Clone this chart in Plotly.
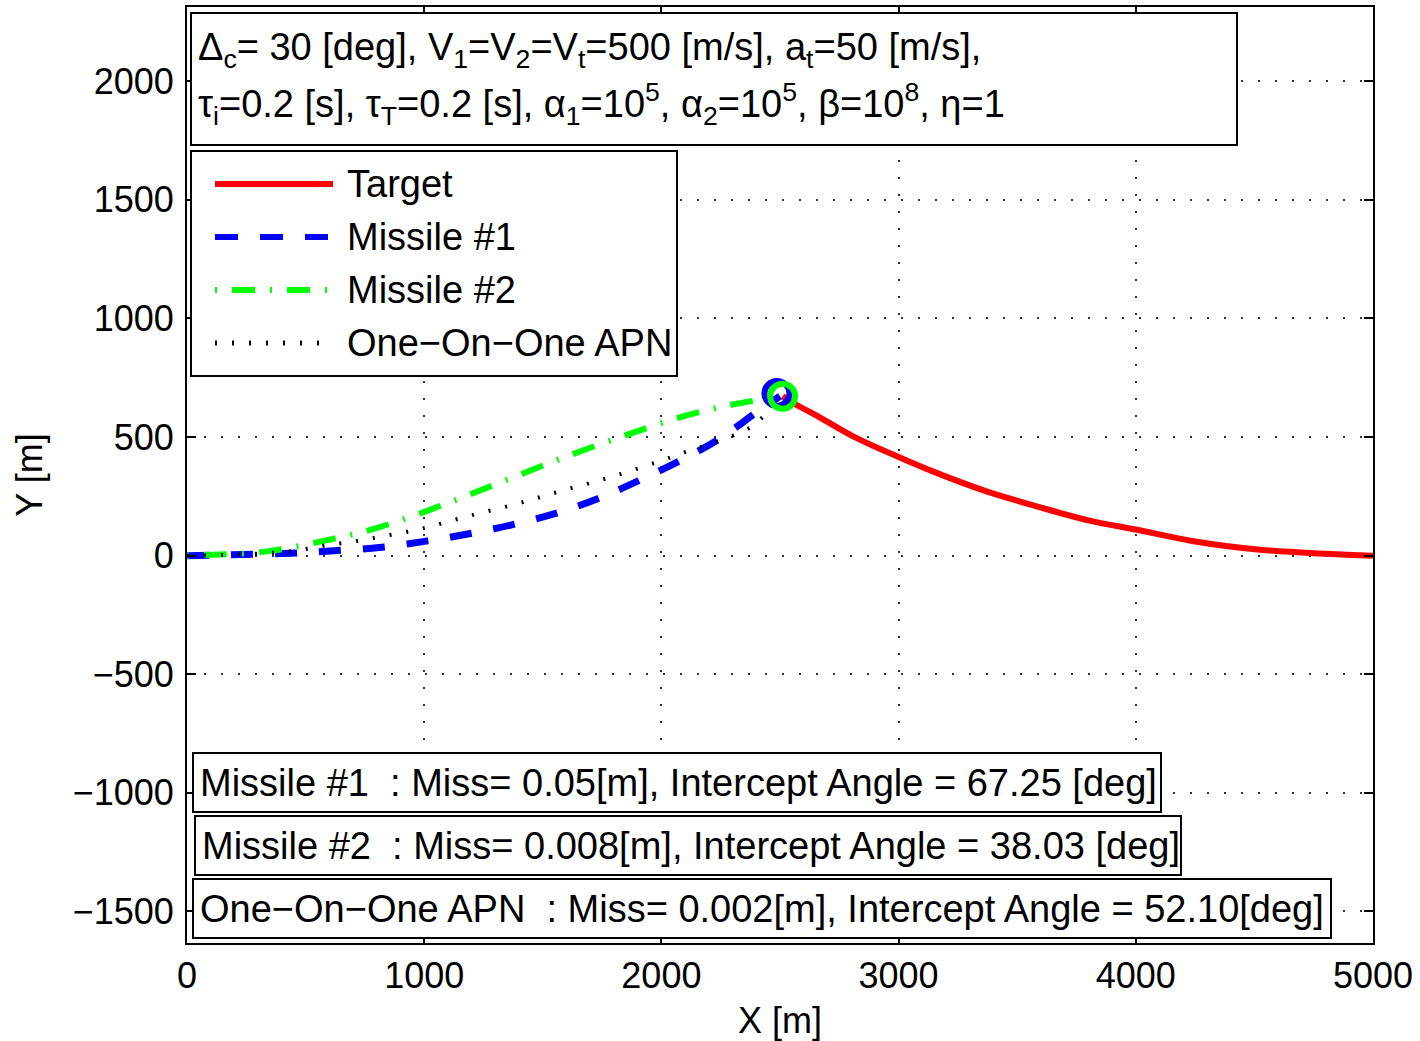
import plotly.graph_objects as go

# ---------------- data ----------------
target_x = [5000, 4805, 4524, 4243, 4000, 3800, 3582, 3371, 3160, 3000, 2808, 2669, 2542, 2511]
target_y = [0, 8, 25, 61, 110, 149, 208, 271, 349, 416, 503, 582, 651, 672]

m1_x = [0, 147, 435, 619, 811, 995, 1178, 1365, 1554, 1734, 1909, 2082, 2245, 2402, 2500]
m1_y = [0, 3, 10, 21, 34, 59, 90, 129, 178, 241, 318, 402, 493, 605, 672]

m2_x = [0, 77, 330, 575, 794, 1012, 1213, 1432, 1642, 1860, 2070, 2200, 2300, 2400, 2500]
m2_y = [0, 3, 17, 62, 115, 189, 266, 353, 434, 511, 581, 615, 637, 655, 672]

apn_x = [0, 150, 427, 575, 715, 855, 995, 1178, 1388, 1589, 1790, 1983, 2122, 2245, 2386, 2500]
apn_y = [0, 3, 17, 42, 62, 87, 115, 165, 218, 276, 332, 395, 444, 485, 548, 672]

m1_end = (2487, 684)
m2_end = (2511, 672)

x_ticks = [0, 1000, 2000, 3000, 4000, 5000]
y_ticks = [-1500, -1000, -500, 0, 500, 1000, 1500, 2000]
x_range = [0, 5000]
y_range = [-1633, 2313]

legend_names = ["Target", "Missile #1", "Missile #2", "One\u2212On\u2212One APN"]

info_line1 = ("\u0394<sub>c</sub>= 30 [deg], V<sub>1</sub>=V<sub>2</sub>=V<sub>t</sub>=500 [m/s], "
              "a<sub>t</sub>=50 [m/s],")
info_line2 = ("\u03c4<sub>i</sub>=0.2 [s], \u03c4<sub>T</sub>=0.2 [s], \u03b1<sub>1</sub>=10<sup>5</sup>, "
              "\u03b1<sub>2</sub>=10<sup>5</sup>, \u03b2=10<sup>8</sup>, \u03b7=1")
result_texts = [
    "Missile #1\u00a0\u00a0: Miss= 0.05[m], Intercept Angle = 67.25 [deg]",
    "Missile #2\u00a0\u00a0: Miss= 0.008[m], Intercept Angle = 38.03 [deg]",
    "One\u2212On\u2212One APN\u00a0\u00a0: Miss= 0.002[m], Intercept Angle = 52.10[deg]",
]

# ---------------- layout helpers ----------------
W, H = 1420, 1041
L, R, T, B = 187, 1373, 7, 943
FONT = "Liberation Sans, Arial, Helvetica, sans-serif"


def px(x):
    return (x - L) / (R - L)


def py(y):
    return (B - y) / (B - T)


RED = "#ff0000"
BLUE = "#0000ff"
GREEN = "#00ff00"
BLACK = "#000000"

fig = go.Figure()
fig.add_trace(go.Scatter(x=target_x, y=target_y, mode="lines",
                         line=dict(color=RED, width=6, shape="spline"), showlegend=False))
fig.add_trace(go.Scatter(x=m1_x, y=m1_y, mode="lines",
                         line=dict(color=BLUE, width=7, dash="22px,22px", shape="spline"),
                         showlegend=False))
fig.add_trace(go.Scatter(x=m2_x, y=m2_y, mode="lines",
                         line=dict(color=GREEN, width=6, dash="2px,15px,23px,15px", shape="spline"),
                         showlegend=False))
fig.add_trace(go.Scatter(x=apn_x, y=apn_y, mode="lines",
                         line=dict(color=BLACK, width=4, dash="2px,15px", shape="spline"),
                         showlegend=False))
fig.add_trace(go.Scatter(x=[m1_end[0]], y=[m1_end[1]], mode="markers",
                         marker=dict(symbol="circle-open", size=25, color=BLUE,
                                     line=dict(width=6, color=BLUE)), showlegend=False))
fig.add_trace(go.Scatter(x=[m2_end[0]], y=[m2_end[1]], mode="markers",
                         marker=dict(symbol="circle-open", size=25, color=GREEN,
                                     line=dict(width=6, color=GREEN)), showlegend=False))

shapes = []
annotations = []


def box(x0, y0, x1, y1):
    shapes.append(dict(type="rect", xref="paper", yref="paper",
                       x0=px(x0), x1=px(x1), y0=py(y1), y1=py(y0),
                       line=dict(color=BLACK, width=2), fillcolor="white", layer="above"))


def text(x, y, s, size=38):
    annotations.append(dict(xref="paper", yref="paper", x=px(x), y=py(y), text=s,
                            showarrow=False, xanchor="left", yanchor="middle",
                            font=dict(family=FONT, size=size, color=BLACK)))


# top parameter box
box(191, 13, 1237, 145)
text(196, 50, info_line1, 38)
text(196, 104, info_line2, 38)

# custom legend
box(191, 151, 677, 376)
leg_styles = [
    dict(color=RED, width=6, dash="solid"),
    dict(color=BLUE, width=6, dash="23px,22px"),
    dict(color=GREEN, width=6, dash="2px,15px,23px,15px"),
    dict(color=BLACK, width=5, dash="2px,15px"),
]
leg_y = [184, 237, 290, 343]
for name, st, yy in zip(legend_names, leg_styles, leg_y):
    shapes.append(dict(type="line", xref="paper", yref="paper",
                       x0=px(215), x1=px(333), y0=py(yy), y1=py(yy),
                       line=st, layer="above"))
    text(345, yy, name, 38)

# result boxes
res_boxes = [(193, 753, 1161, 812), (195, 816, 1181, 875), (193, 879, 1331, 938)]
res_text_x = [198, 200, 198]
for (x0, y0, x1, y1), tx, s in zip(res_boxes, res_text_x, result_texts):
    box(x0, y0, x1, y1)
    text(tx, (y0 + y1) / 2, s, 38)

axis_common = dict(
    showline=True, linecolor=BLACK, linewidth=2, mirror="ticks",
    ticks="inside", ticklen=9, tickwidth=1.5, tickcolor=BLACK,
    showgrid=True, gridcolor="#333333", gridwidth=1.5, griddash="2px,15px",
    zeroline=False, automargin=False,
    tickfont=dict(family=FONT, size=36, color=BLACK),
)

fig.update_layout(
    width=W, height=H,
    margin=dict(l=L, r=W - R, t=T, b=H - B, pad=0),
    paper_bgcolor="white", plot_bgcolor="white",
    showlegend=False,
    shapes=shapes, annotations=annotations,
    xaxis=dict(range=x_range, tickvals=x_ticks, ticktext=[str(v) for v in x_ticks],
               title=dict(text="X [m]", font=dict(family=FONT, size=36, color=BLACK), standoff=20),
               ticklabelstandoff=0, **axis_common),
    yaxis=dict(range=y_range, tickvals=y_ticks,
               ticktext=[("\u2212" + str(-v)) if v < 0 else str(v) for v in y_ticks],
               title=dict(text="Y [m]", font=dict(family=FONT, size=36, color=BLACK), standoff=19),
               ticklabelstandoff=4, **axis_common),
)

fig.write_html("out.html")
